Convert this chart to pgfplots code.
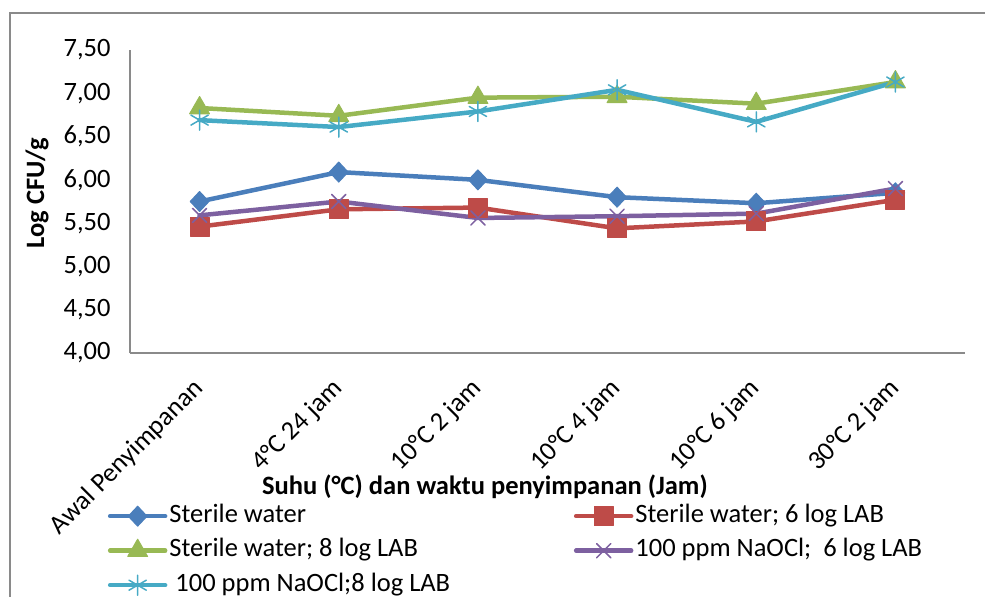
\documentclass[border=0pt]{standalone}
\usepackage{pgfplots}
\pgfplotsset{compat=1.18}
\usepackage{fontspec}
\setmainfont{Carlito}
\definecolor{cBlue}{HTML}{4A7EBB}
\definecolor{cRed}{HTML}{BE4B48}
\definecolor{cGreen}{HTML}{98B954}
\definecolor{cPurple}{HTML}{7D60A0}
\definecolor{cCyan}{HTML}{46AAC5}
\definecolor{frameGray}{HTML}{8A8A8A}
\begin{document}
\begin{tikzpicture}
\useasboundingbox (0bp,0bp) rectangle (985bp,-597bp);
\draw[frameGray, line width=1.5bp] (10bp,-600bp) -- (10bp,-13bp) -- (990bp,-13bp);
\begin{axis}[
  at={(130bp,-353bp)}, anchor=south west,
  width=835bp, height=303bp, scale only axis,
  font=\fontsize{26.5bp}{31bp}\selectfont,
  xmin=-0.5, xmax=5.5, ymin=4, ymax=7.5,
  axis x line*=bottom, axis y line*=left,
  axis line style={frameGray, line width=1.5bp},
  major tick length=0pt,
  xtick={0,1,2,3,4,5},
  xticklabels={Awal Penyimpanan, 4°C 24 jam, 10°C 2 jam, 10°C 4 jam, 10°C 6 jam, 30°C 2 jam},
  xticklabel style={yshift=-32bp, rotate=45, anchor=east, inner sep=0pt},
  ytick={4,4.5,5,5.5,6,6.5,7,7.5},
  yticklabel style={xshift=-16bp, /pgf/number format/.cd, fixed, fixed zerofill, precision=2, use comma, assume math mode=true},
  ylabel={\textbf{Log CFU/g}},
  ylabel style={at={(axis description cs:-0.1114,0.528)}, anchor=center, rotate=0},
  xlabel={\textbf{Suhu (°C) dan waktu penyimpanan (Jam)}},
  xlabel style={at={(axis description cs:0.425,-0.442)}, anchor=center},
  every axis plot/.append style={line width=4.5bp, line join=round, line cap=round},
  legend columns=2,
  legend cell align=left,
  legend style={at={(axis description cs:-0.0267,-0.4917)}, anchor=north west,
    draw=none, fill=none, inner sep=0pt, column sep=0bp, row sep=6.5bp,
    nodes={text height=18bp, text depth=6bp, inner sep=2bp}},
  legend image code/.code={\draw[mark repeat=2, mark phase=2, #1] plot coordinates {(0bp,0bp) (27.5bp,0bp) (55bp,0bp)};},
  clip=false,
]
\addplot[color=cBlue, mark=diamond*, mark size=10bp, mark options={xscale=1.25, line width=1bp}]
  coordinates {(0,5.75) (1,6.09) (2,6.00) (3,5.80) (4,5.73) (5,5.85)};
\addlegendentry{\makebox[402.5bp][l]{Sterile water}}
\addplot[color=cRed, mark=square*, mark size=9.5bp, mark options={line width=1bp}]
  coordinates {(0,5.46) (1,5.66) (2,5.68) (3,5.44) (4,5.52) (5,5.77)};
\addlegendentry{Sterile water; 6 log LAB}
\addplot[color=cGreen, mark=triangle*, mark size=11.5bp, mark options={line width=1bp}]
  coordinates {(0,6.83) (1,6.74) (2,6.95) (3,6.96) (4,6.88) (5,7.13)};
\addlegendentry{\makebox[402.5bp][l]{Sterile water; 8 log LAB}}
\addplot[color=cPurple, mark=x, mark size=10bp, mark options={line width=1.5bp}]
  coordinates {(0,5.59) (1,5.75) (2,5.56) (3,5.58) (4,5.61) (5,5.90)};
\addlegendentry{100 ppm NaOCl;\ \ 6 log LAB}
\addplot[color=cCyan, mark=asterisk, mark size=10bp, mark options={line width=1.5bp}]
  coordinates {(0,6.69) (1,6.61) (2,6.79) (3,7.04) (4,6.67) (5,7.13)};
\addlegendentry{\makebox[402.5bp][l]{\ 100 ppm NaOCl;8 log LAB}}
\end{axis}
\end{tikzpicture}
\end{document}
